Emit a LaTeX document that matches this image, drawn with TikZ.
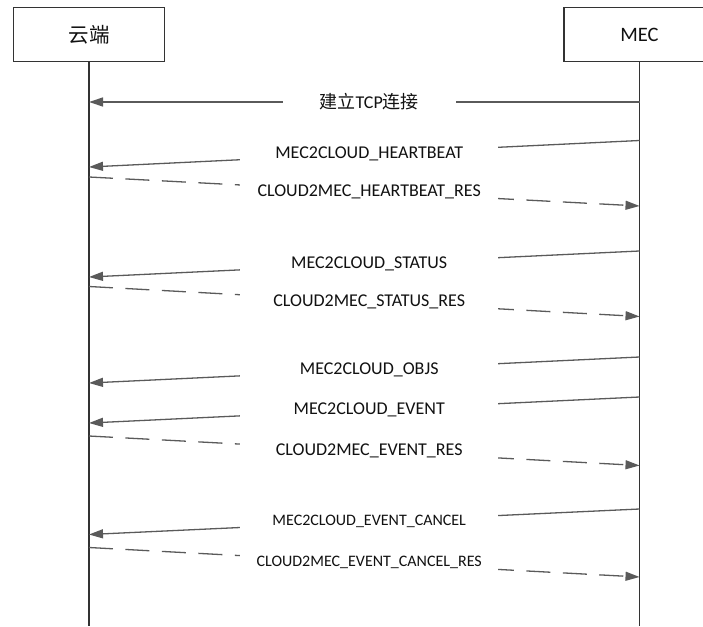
\documentclass[tikz,border=0pt]{standalone}
\usepackage{fontspec}
\setmainfont{Carlito}
\newfontfamily\cjk{Noto Sans CJK SC}
\usetikzlibrary{arrows.meta}
\definecolor{arrowgray}{HTML}{5A5A5A}
\definecolor{linegray}{HTML}{333333}
\definecolor{txt}{HTML}{111111}
\begin{document}
\begin{tikzpicture}[x=1pt,y=-1pt,
  actor/.style={draw=linegray,line width=1.1pt,fill=white,minimum width=151pt,minimum height=54pt,inner sep=0pt,text=txt,font=\fontsize{20.5}{24}\selectfont},
  life/.style={draw=linegray,line width=1.4pt},
  msg/.style={draw=arrowgray,line width=1.3pt,-{Triangle[length=14pt,width=9pt]}},
  reply/.style={msg,dash pattern=on 24pt off 12.5pt},
  lbl/.style={fill=white,minimum width=258pt,minimum height=22pt,inner sep=0pt,text=txt,font=\fontsize{18}{20}\selectfont},
  slbl/.style={lbl,font=\fontsize{16}{18}\selectfont}]
\useasboundingbox (0,0) rectangle (703,626);
\clip (0,0) rectangle (703,626);

% actors
\node[actor] (cloud) at (89,34.5) {\cjk 云端};
\node[actor] (mec) at (639.5,34.5) {MEC};
\coordinate (cEnd) at (89,626);
\coordinate (mEnd) at (639.5,626);
\draw[life] (cloud.south) -- (cEnd);
\draw[life] (mec.south) -- (mEnd);

% message end points
\coordinate (m1) at (639.5,102);   \coordinate (c1) at (89,102);
\coordinate (m2) at (639.5,140.5); \coordinate (c2) at (89,167);
\coordinate (c3) at (89,177);      \coordinate (m3) at (639.5,206);
\coordinate (m4) at (639.5,251);   \coordinate (c4) at (89,277);
\coordinate (c5) at (89,286.5);    \coordinate (m5) at (639.5,316.5);
\coordinate (m6) at (639.5,357);   \coordinate (c6) at (89,383);
\coordinate (m7) at (639.5,397);   \coordinate (c7) at (89,423);
\coordinate (c8) at (89,436);      \coordinate (m8) at (639.5,465.5);
\coordinate (m9) at (639.5,509);   \coordinate (c9) at (89,534.5);
\coordinate (c10) at (89,547.5);   \coordinate (m10) at (639.5,577);

% messages
\draw[msg] (m1) -- node[lbl,minimum width=173pt,pos=0.491] (t1) {{\cjk 建立}TCP{\cjk 连接}} (c1);
\draw[msg] (m2) -- node[lbl,pos=0.491] (t2) {MEC2CLOUD\_HEARTBEAT} (c2);
\draw[reply] (c3) -- node[lbl,pos=0.509] (t3) {CLOUD2MEC\_HEARTBEAT\_RES} (m3);
\draw[msg] (m4) -- node[lbl,pos=0.491] (t4) {MEC2CLOUD\_STATUS} (c4);
\draw[reply] (c5) -- node[lbl,pos=0.509] (t5) {CLOUD2MEC\_STATUS\_RES} (m5);
\draw[msg] (m6) -- node[lbl,pos=0.491] (t6) {MEC2CLOUD\_OBJS} (c6);
\draw[msg] (m7) -- node[lbl,pos=0.491] (t7) {MEC2CLOUD\_EVENT} (c7);
\draw[reply] (c8) -- node[lbl,pos=0.509] (t8) {CLOUD2MEC\_EVENT\_RES} (m8);
\draw[msg] (m9) -- node[slbl,pos=0.491] (t9) {MEC2CLOUD\_EVENT\_CANCEL} (c9);
\draw[reply] (c10) -- node[slbl,pos=0.509] (t10) {CLOUD2MEC\_EVENT\_CANCEL\_RES} (m10);
\end{tikzpicture}
\end{document}
